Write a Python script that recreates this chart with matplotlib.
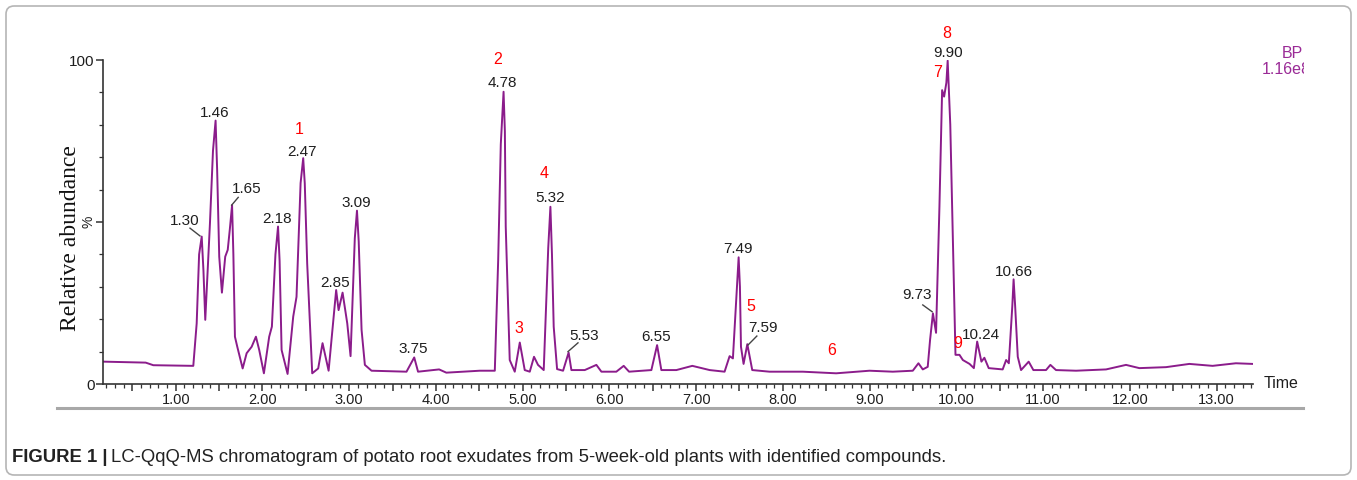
import matplotlib
matplotlib.use("Agg")
import matplotlib.pyplot as plt
from matplotlib.ticker import MultipleLocator, FixedLocator, FuncFormatter
from matplotlib.patches import FancyBboxPatch
from matplotlib.lines import Line2D
from matplotlib.transforms import Bbox, TransformedBbox
from matplotlib import font_manager

# ---------------- data ----------------
time_min = [0.166, 0.654, 0.742, 1.203, 1.242, 1.27, 1.30, 1.32, 1.341, 1.395, 1.43, 1.46, 1.478,
            1.502, 1.533, 1.571, 1.60, 1.625, 1.65, 1.665, 1.683, 1.71, 1.772, 1.818, 1.876,
            1.925, 1.963, 2.017, 2.078, 2.109, 2.15, 2.18, 2.198, 2.221, 2.29, 2.355, 2.393,
            2.44, 2.47, 2.488, 2.516, 2.574, 2.643, 2.693, 2.763, 2.85, 2.878, 2.924, 2.978,
            3.016, 3.065, 3.09, 3.11, 3.143, 3.181, 3.258, 3.661, 3.75, 3.794, 4.037, 4.12,
            4.506,
            4.679, 4.718, 4.748, 4.78, 4.795, 4.805, 4.851, 4.909, 4.967, 5.024, 5.082, 5.131,
            5.177, 5.243, 5.295, 5.32, 5.338, 5.358, 5.397, 5.466, 5.53, 5.562, 5.716, 5.85,
            5.908, 6.08, 6.165, 6.227, 6.484, 6.55, 6.599, 6.772, 6.956, 7.156, 7.328, 7.386,
            7.424, 7.47, 7.49, 7.505, 7.517, 7.547, 7.59, 7.647, 7.846, 8.23, 8.614, 8.999,
            9.267, 9.498, 9.563, 9.613, 9.67, 9.697, 9.73, 9.766, 9.805, 9.836, 9.859, 9.885,
            9.90, 9.93, 9.951, 9.99, 10.036, 10.075, 10.152, 10.202, 10.24, 10.289, 10.323,
            10.373, 10.534, 10.574, 10.605, 10.645, 10.66, 10.678, 10.708, 10.746, 10.834,
            10.888, 11.034, 11.084, 11.149, 11.38, 11.726, 11.956, 12.11, 12.417, 12.686,
            12.954, 13.223, 13.415]
rel_abund = [6.9, 6.6, 5.8, 5.6, 18.7, 40.0, 45.5, 35.0, 19.8, 49.6, 72.0, 81.3, 66.0,
             39.3, 28.2, 39.3, 41.4, 48.0, 55.2, 40.0, 14.6, 11.5, 4.8, 9.5, 11.5,
             14.6, 10.5, 3.3, 14.6, 17.7, 40.0, 48.6, 38.0, 10.5, 3.1, 20.8, 26.9,
             62.0, 69.7, 62.0, 37.2, 3.3, 4.8, 12.6, 4.1, 29.0, 22.8, 28.2, 18.7,
             8.6, 45.0, 53.5, 44.0, 16.7, 5.9, 4.1, 3.8, 8.2, 3.8, 4.5, 3.5,
             4.1,
             4.1, 38.3, 74.0, 90.2, 78.0, 48.6, 7.4, 3.8, 12.8, 4.3, 3.8, 8.4,
             5.9, 4.3, 42.0, 54.7, 40.0, 17.7, 4.6, 4.1, 9.7, 4.3, 4.3, 5.9,
             3.8, 3.8, 5.6, 3.8, 4.3, 12.0, 4.3, 4.3, 5.6, 4.3, 3.8, 8.6,
             7.9, 30.0, 39.1, 30.0, 11.5, 6.2, 12.3, 4.3, 3.8, 3.8, 3.3, 4.1,
             3.8, 4.1, 6.4, 4.5, 5.3, 13.6, 21.8, 15.8, 54.7, 90.7, 88.7, 93.0,
             99.8, 80.0, 54.7, 9.0, 9.0, 7.4, 6.2, 4.9, 13.1, 6.9, 8.1,
             4.9, 4.5, 7.4, 6.4, 24.0, 32.3, 24.0, 8.4, 4.3, 6.9,
             4.3, 4.3, 5.9, 4.3, 4.1, 4.5, 5.9, 4.9, 5.2, 6.2,
             5.6, 6.4, 6.2]

peak_labels = ["1.30", "1.46", "1.65", "2.18", "2.47", "2.85", "3.09", "3.75", "4.78",
               "5.32", "5.53", "6.55", "7.49", "7.59", "9.73", "9.90", "10.24", "10.66"]
compound_ids = ["1", "2", "3", "4", "5", "6", "7", "8", "9"]
x_tick_labels = ["1.00", "2.00", "3.00", "4.00", "5.00", "6.00", "7.00",
                 "8.00", "9.00", "10.00", "11.00", "12.00", "13.00"]
caption_bold = "FIGURE 1 |"
caption_text = "LC-QqQ-MS chromatogram of potato root exudates from 5-week-old plants with identified compounds."

# ---------------- layout (text placement, in data coords) ----------------
peak_label_pos = {
    "1.30": (1.107, 50.4), "1.46": (1.453, 83.7), "1.65": (1.818, 60.2),
    "2.18": (2.164, 50.9), "2.47": (2.459, 71.7), "2.85": (2.835, 31.3),
    "3.09": (3.085, 55.8), "3.75": (3.737, 10.7), "4.78": (4.767, 92.8),
    "5.32": (5.312, 57.3), "5.53": (5.704, 14.8), "6.55": (6.541, 14.4),
    "7.49": (7.486, 41.8), "7.59": (7.77, 17.2), "9.73": (9.544, 27.4),
    "9.90": (9.909, 102.1), "10.24": (10.285, 15.1), "10.66": (10.669, 34.7),
}
leaders = {
    "1.30": ((1.165, 48.1), (1.28, 45.7)),
    "1.65": ((1.721, 57.6), (1.645, 55.2)),
    "5.53": ((5.638, 12.7), (5.523, 10.0)),
    "7.59": ((7.70, 14.8), (7.597, 12.0)),
    "9.73": ((9.613, 24.4), (9.721, 22.3)),
}
compound_pos = {
    "1": (2.424, 78.4), "2": (4.713, 100.0), "3": (4.958, 17.2),
    "4": (5.243, 65.0), "5": (7.628, 23.9), "6": (8.558, 10.3),
    "7": (9.786, 96.2), "8": (9.894, 108.2), "9": (10.01, 12.4),
}

W, H = 1357, 480
trace_color = "#8b1c8b"
label_color = "#1e1e1e"
axis_color = "#333333"

avail = {f.name for f in font_manager.fontManager.ttflist}
sans = "Liberation Sans" if "Liberation Sans" in avail else "DejaVu Sans"
serif = "Liberation Serif" if "Liberation Serif" in avail else "DejaVu Serif"
narrow = "Liberation Sans Narrow" if "Liberation Sans Narrow" in avail else sans
plt.rcParams["font.family"] = [sans, "DejaVu Sans"]

fig = plt.figure(figsize=(W / 100, H / 100), dpi=100)
fig.patch.set_facecolor("white")

ax = fig.add_axes([103 / W, 96 / H, (1253 - 103) / W, (384 - 60) / H])
ax.plot(time_min, rel_abund, color=trace_color, lw=1.4, solid_joinstyle="round")
ax.set_xlim(0.162, 13.42)
ax.set_ylim(0, 100)

for s in ["top", "right"]:
    ax.spines[s].set_visible(False)
for s in ["left", "bottom"]:
    ax.spines[s].set_color(axis_color)
    ax.spines[s].set_linewidth(1.2)

# x ticks
ax.xaxis.set_major_locator(MultipleLocator(0.5))
ax.xaxis.set_minor_locator(MultipleLocator(0.1))
lbl_map = {float(s): s for s in x_tick_labels}
ax.xaxis.set_major_formatter(FuncFormatter(lambda v, p: lbl_map.get(round(v, 2), "")))
ax.tick_params(axis="x", which="major", length=5, width=1.1, color=axis_color,
               labelsize=10.5, labelcolor=label_color, pad=1.5)
ax.tick_params(axis="x", which="minor", length=3, width=0.9, color=axis_color)

# y ticks
ax.yaxis.set_major_locator(FixedLocator([0, 50, 100]))
ax.yaxis.set_minor_locator(MultipleLocator(10))
ax.set_yticklabels(["0", "", "100"])
ax.tick_params(axis="y", which="major", length=5, width=1.1, color=axis_color,
               labelsize=11, labelcolor=label_color, pad=1)
ax.tick_params(axis="y", which="minor", length=3, width=0.9, color=axis_color)
ax.text(-0.013, 50, "%", transform=ax.get_yaxis_transform(), rotation=90,
        ha="center", va="center", fontsize=10, color=label_color)

ax.set_ylabel("Relative abundance", family=serif, fontsize=17, color="#111111")
ax.yaxis.set_label_coords((81 - 103) / 1150, 0.45)

ax.text(1.009, 0.0, "Time", transform=ax.transAxes, ha="left", va="center",
        fontsize=11.5, color=label_color)

# peak labels
for lab in peak_labels:
    x, y = peak_label_pos[lab]
    ax.text(x, y, lab, ha="center", va="center", fontsize=11, color=label_color, clip_on=False)
for lab, ((x0, y0), (x1, y1)) in leaders.items():
    ax.plot([x0, x1], [y0, y1], color="#444444", lw=1.0, clip_on=False)
for cid in compound_ids:
    x, y = compound_pos[cid]
    ax.text(x, y, cid, ha="center", va="center", fontsize=11.5, color="#ff0000", clip_on=False)

# BP / scale text
fig.text(1303 / W, 1 - 53 / H, "BP", ha="right", va="center", fontsize=11.5, color="#9a2a96")
t2 = fig.text(1311 / W, 1 - 69 / H, "1.16e8", ha="right", va="center", fontsize=11.5, color="#9a2a96")
t2.set_clip_box(TransformedBbox(Bbox([[0, 0], [1304 / W, 1]]), fig.transFigure))
t2.set_clip_on(True)

# gray separator line
fig.add_artist(Line2D([57 / W, 1303 / W], [1 - 408 / H] * 2, transform=fig.transFigure,
                      color="#a8a8a8", lw=2.2))

# outer rounded border
fig.add_artist(FancyBboxPatch((6 / W, 5 / H), (1351 - 6) / W, (474 - 5) / H,
                              boxstyle="round,pad=0,rounding_size=0.006",
                              mutation_aspect=W / H, transform=fig.transFigure,
                              fc="none", ec="#b5b5b5", lw=1.2))

# caption
renderer = fig.canvas.get_renderer()
cy = 1 - 458 / H
tb = fig.text(12 / W, cy, caption_bold, ha="left", va="center", fontsize=12,
              fontweight="bold", family=[narrow, sans], color="#222222")
tn = fig.text(0, cy, caption_text, ha="left", va="center", fontsize=12,
              family=[narrow, sans], color="#222222")
bb = tb.get_window_extent(renderer)
bn = tn.get_window_extent(renderer)
total = (bb.width + 5 + bn.width)
scale = (955 - 12) / total
fs = 12 * scale
tb.set_fontsize(fs)
tn.set_fontsize(fs)
bb = tb.get_window_extent(renderer)
tn.set_x((bb.x1 + 4) / W)

fig.savefig("out.png", dpi=100, facecolor="white")
